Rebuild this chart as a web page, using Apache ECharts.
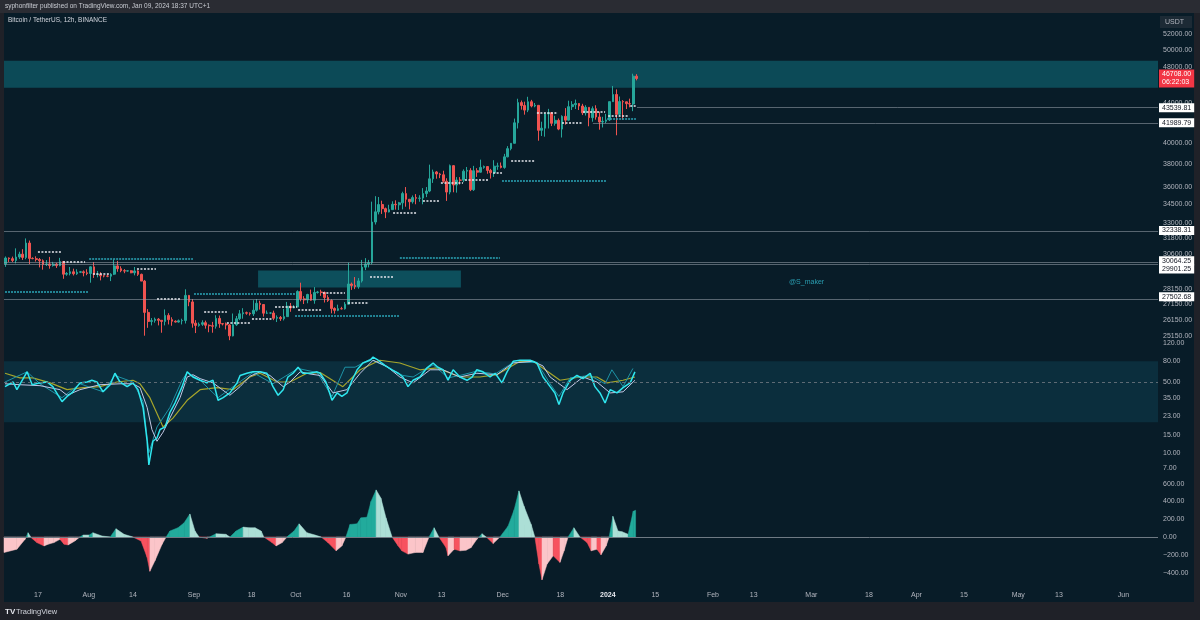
<!DOCTYPE html>
<html>
<head>
<meta charset="utf-8">
<title>Bitcoin / TetherUS, 12h, BINANCE</title>
<script src="https://cdn.jsdelivr.net/npm/echarts@6/dist/echarts.min.js"></script>
<style>
  html, body { margin: 0; padding: 0; background: #1f2128; }
  #chart { width: 1200px; height: 620px; }
</style>
</head>
<body>
<div id="chart"></div>
<script>
// daily candles from 2023-07-07 (day 0) to 2024-01-09
var opens = [
  29900, 30340, 30290, 30160, 30410, 30620, 30380, 31450, 30310, 30290, 30230, 30140, 29860, 29910, 29800, 29900, 29790, 30080, 29180, 29230, 29350, 29210, 29320, 29350, 29280,
  29230, 29700, 29170, 29180, 29070, 29050, 29040, 29180, 29770, 29570, 29430, 29400, 29420, 29280, 29410, 29170, 28700, 26620, 26050, 26100, 26190, 26120, 26050, 26430, 26160, 26060, 26010, 26090, 26110, 27730, 27300,
  25940, 25800, 25870, 25970, 25810, 25780, 25750, 26240, 25910, 25890, 25830, 25160, 25840, 26220, 26530, 26600, 26570, 26530, 26760, 27210, 27130, 26570, 26580, 26580, 26250, 26300, 26220, 26350, 27020, 26910,
  26970, 27990, 27500, 27430, 27790, 27410, 27930, 27960, 27930, 27590, 27390, 26870, 26750, 26860, 26850, 27150, 28500, 28400, 28320, 28710, 29680, 29910, 29990, 33080, 33900, 34500, 34160, 33890, 34080, 34520, 34480,
  34640, 35420, 34940, 34730, 35080, 35020, 35040, 35420, 35640, 36700, 37310, 37130, 37060, 36490, 35550, 37880, 36160, 36590, 36580, 37380, 37450, 35750, 37420, 37290, 37720, 37800, 37450, 37240, 37830, 37850,
  37720, 38690, 39460, 39970, 41990, 44080, 43770, 43290, 44170, 43720, 43790, 41240, 41450, 42890, 43020, 41940, 42240, 41360, 42650, 42260, 43650, 43860, 43990, 43720, 43010, 43580, 42510, 43440, 42580, 42070, 42140,
  42280, 44180, 44950, 42850, 44190, 44160, 43970, 43930, 46970
];
var closes = [
  30340, 30290, 30160, 30410, 30620, 30380, 31450, 30310, 30290, 30230, 30140, 29860, 29910, 29800, 29900, 29790, 30080, 29180, 29230, 29350, 29210, 29320, 29350, 29280, 29230,
  29700, 29170, 29180, 29070, 29050, 29040, 29180, 29770, 29570, 29430, 29400, 29420, 29280, 29410, 29170, 28700, 26620, 26050, 26100, 26190, 26120, 26050, 26430, 26160, 26060, 26010, 26090, 26110, 27730, 27300, 25940,
  25800, 25870, 25970, 25810, 25780, 25750, 26240, 25910, 25890, 25830, 25160, 25840, 26220, 26530, 26600, 26570, 26530, 26760, 27210, 27130, 26570, 26580, 26580, 26250, 26300, 26220, 26350, 27020, 26910, 26970,
  27990, 27500, 27430, 27790, 27410, 27930, 27960, 27930, 27590, 27390, 26870, 26750, 26860, 26850, 27150, 28500, 28400, 28320, 28710, 29680, 29910, 29990, 33080, 33900, 34500, 34160, 33890, 34080, 34520, 34480, 34640,
  35420, 34940, 34730, 35080, 35020, 35040, 35420, 35640, 36700, 37310, 37130, 37060, 36490, 35550, 37880, 36160, 36590, 36580, 37380, 37450, 35750, 37420, 37290, 37720, 37800, 37450, 37240, 37830, 37850, 37720,
  38690, 39460, 39970, 41990, 44080, 43770, 43290, 44170, 43720, 43790, 41240, 41450, 42890, 43020, 41940, 42240, 41360, 42650, 42260, 43650, 43860, 43990, 43720, 43010, 43580, 42510, 43440, 42580, 42070, 42140, 42280,
  44180, 44950, 42850, 44190, 44160, 43970, 43930, 46970, 46708
];
var lows = [
  29700, 30050, 30050, 29950, 30270, 30200, 30250, 29900, 30250, 30080, 29660, 29500, 29760, 29570, 29720, 29620, 29740, 28860, 29070, 29100, 29090, 29130, 29260, 29030, 29110,
  28590, 28920, 28960, 28750, 28960, 28970, 28700, 29120, 29350, 29320, 29250, 29360, 29250, 29100, 29060, 28700, 25170, 25650, 25800, 25970, 25800, 25350, 25800, 25860, 25780, 25980, 25970, 25860, 25920, 27020, 25660,
  25330, 25720, 25770, 25600, 25380, 25350, 25600, 25650, 25800, 25550, 24900, 25130, 25770, 26130, 26220, 26470, 26420, 26390, 26670, 26800, 26350, 26520, 26510, 26130, 26010, 26080, 26110, 26340, 26660, 26880,
  26960, 27340, 27160, 27210, 27370, 27180, 27850, 27700, 27260, 27300, 26560, 26540, 26700, 26810, 26800, 27120, 28100, 28150, 28180, 28600, 29470, 29660, 29880, 32880, 33690, 33730, 33390, 33850, 34060, 34080, 34050,
  34100, 34320, 34100, 34580, 34520, 34730, 34520, 35120, 35540, 36340, 36710, 36760, 36340, 34800, 35360, 35530, 35500, 36200, 36400, 36700, 35630, 35650, 36870, 37250, 37600, 37150, 36720, 36870, 37500, 37630,
  37600, 38650, 39300, 39970, 41420, 43340, 42820, 43080, 43580, 43590, 40220, 40680, 40610, 41420, 41660, 41700, 41250, 40530, 41800, 42190, 43300, 43400, 43300, 42780, 42730, 41640, 42100, 42310, 41300, 41520, 41950,
  42180, 44150, 40750, 42620, 42290, 43400, 43580, 43180, 46500
];
var highs = [
  30450, 30380, 30440, 31050, 30800, 30990, 31800, 31640, 30390, 30460, 30340, 30240, 30190, 30420, 30060, 29990, 30350, 30100, 29330, 29690, 29570, 29530, 29410, 29450, 29530,
  29740, 30050, 29410, 29320, 29110, 29170, 29250, 30240, 30130, 29740, 29540, 29470, 29460, 29690, 29460, 29220, 28780, 26830, 26260, 26290, 26260, 26130, 26810, 26570, 26310, 26120, 26170, 26220, 28140, 27760, 27490,
  26130, 25980, 26120, 26100, 25860, 26020, 26440, 26420, 25940, 25980, 25880, 26550, 26390, 26770, 26890, 26670, 26620, 27410, 27490, 27380, 27150, 26740, 26640, 26730, 26430, 26390, 26840, 27300, 27230, 27090,
  28070, 28590, 27680, 27840, 28120, 28290, 28030, 28110, 27990, 27740, 27480, 26950, 27120, 26980, 27290, 30000, 28600, 28980, 28910, 30200, 30330, 30200, 34740, 35200, 35130, 34820, 34250, 34480, 34770, 34850, 34720,
  35580, 35980, 34950, 35260, 35380, 35280, 35890, 35980, 37970, 37520, 37400, 37230, 37420, 36750, 37980, 37930, 36850, 36850, 37540, 37760, 37650, 37860, 37650, 38430, 37890, 37830, 37590, 38380, 38150, 38170,
  38970, 39700, 40000, 42420, 44490, 44300, 44180, 44700, 44370, 44040, 43800, 42100, 43000, 43420, 43090, 42700, 42430, 42750, 43500, 44280, 44230, 44400, 44020, 43950, 43800, 43600, 43680, 43800, 43130, 42600, 42900,
  44190, 45880, 45500, 44730, 44340, 44190, 44500, 47250, 47200
];

// oscillator pane, [day, value]
var rsiFast = [[0.3,45],[2.7,50],[3.8,42],[6.8,63],[8.3,47],[10.6,49],[12.7,50],[14.4,45],[17.1,32],[18.6,36],[20.0,39],[22.4,49],[24.5,50],[25.9,52],[27.4,50],[29.2,40],[31.3,47],[32.7,61],[34.2,50],[36.3,45],[38.0,49],[39.5,42],[41.0,28],[42.2,13],[42.7,7.6],[43.9,13],[45.1,14],[46.0,17],[47.5,18],[48.9,25],[50.4,31],[52.5,45],[54.0,63],[55.7,56],[57.8,52],[59.8,49],[61.6,52],[63.1,33],[64.6,35],[66.6,39],[68.7,49],[69.6,58],[71.6,61],[73.4,63],[75.5,63],[77.5,61],[79.3,45],[80.8,37],[82.3,42],[83.7,56],[85.2,61],[86.7,70],[88.1,61],[90.2,61],[92.3,63],[93.2,61],[94.9,50],[96.7,33],[98.2,39],[99.6,36],[101.1,39],[102.6,52],[104.1,66],[105.8,77],[107.9,82],[108.8,88],[110.3,82],[112.3,73],[114.4,66],[116.2,61],[117.6,56],[119.1,45],[120.6,52],[122.6,56],[124.7,69],[126.5,77],[127.9,70],[129.4,66],[130.9,52],[132.4,66],[134.4,56],[136.5,52],[138.0,56],[139.4,66],[141.2,63],[143.3,56],[144.8,61],[146.8,49],[148.3,63],[150.1,80],[152.1,82],[155.1,82],[157.1,77],[158.9,56],[161.0,45],[162.4,39],[163.6,30],[164.8,39],[166.9,52],[168.9,58],[170.7,54],[172.8,61],[174.2,45],[175.7,39],[177.2,31],[178.7,42],[180.7,39],[182.5,44],[184.6,49],[186.0,63]];
var rsiSlow = [[0.3,48],[4.7,47],[10.6,46],[16.5,42],[18.6,37],[22.4,42],[28.3,47],[34.2,48],[38.0,48],[40.1,44],[42.2,28],[43.6,17],[45.1,13],[46.9,16],[48.9,22],[51.9,35],[54.0,56],[55.7,59],[57.8,54],[61.6,49],[65.2,40],[66.6,37],[69.6,45],[72.5,57],[75.5,63],[78.4,58],[82.3,45],[84.3,50],[87.3,63],[90.2,60],[93.2,58],[97.0,39],[101.1,42],[105.0,61],[108.8,82],[112.9,71],[116.7,56],[120.6,49],[125.6,66],[129.4,66],[134.4,56],[139.4,61],[145.3,59],[150.1,77],[156.0,80],[158.9,72],[161.0,56],[166.0,42],[170.7,56],[174.8,50],[178.7,39],[182.5,40],[186.0,52]];
var rsiMa = [[0.3,61],[4.7,55],[8.5,55],[13.6,49],[18.6,42],[23.3,44],[28.3,45],[33.3,50],[38.0,52],[40.1,48],[43.0,35],[46.9,18],[49.8,22],[54.0,33],[57.8,42],[62.8,44],[67.5,42],[72.5,56],[75.5,61],[80.5,50],[84.3,50],[89.3,61],[93.2,62],[99.9,45],[105.0,66],[110.8,82],[116.7,77],[122.6,66],[127.7,69],[134.4,56],[140.3,56],[145.3,59],[152.1,80],[156.0,80],[163.9,52],[169.8,56],[174.8,56],[177.8,49],[182.5,52],[186.0,56]];
var rsiHtf = [[0.3,50],[6.8,63],[10.6,48],[17.1,35],[22.4,48],[29.2,40],[32.7,58],[38.0,50],[41.0,32],[42.7,10],[45.1,18],[48.9,28],[52.5,52],[54.0,62],[57.8,52],[63.1,35],[68.7,48],[73.4,62],[79.3,48],[86.7,68],[92.3,62],[96.7,36],[100.5,70],[103.5,70],[107.9,84],[112.3,72],[117.6,58],[120.6,56],[126.5,74],[130.9,55],[134.4,58],[139.4,64],[144.8,60],[150.1,78],[157.1,78],[161.0,48],[163.6,36],[166.9,55],[172.8,58],[177.2,48],[179.2,66],[182.5,45],[185.4,68]];

// histogram pane, [day, value]
var histPts = [[0,-174],[3.8,-137],[6.2,-26],[7.1,48],[8.0,-7],[9.7,-63],[11.8,-100],[13.0,-81],[14.7,-63],[16.5,-26],[17.7,-81],[18.9,-89],[20.9,-44],[22.1,-7],[23.3,22],[25.1,22],[26.2,48],[28.9,11],[31.3,0],[33.0,93],[35.4,30],[38.0,0],[40.4,-44],[42.2,-229],[43.0,-385],[44.5,-266],[46.6,-81],[47.8,0],[48.9,67],[51.3,104],[53.1,159],[54.8,259],[56.3,67],[57.5,0],[59.8,-15],[62.5,37],[65.4,30],[66.6,0],[68.4,67],[70.5,111],[72.2,104],[74.0,104],[75.8,67],[76.6,0],[79.0,-63],[80.2,-100],[82.0,-63],[83.7,11],[85.5,67],[87.0,148],[89.3,48],[91.7,22],[93.5,0],[95.5,-63],[97.9,-155],[99.6,-100],[100.8,0],[102.0,141],[104.1,148],[105.2,215],[107.0,222],[108.2,400],[109.7,529],[111.1,437],[112.6,215],[114.4,0],[116.2,-100],[117.3,-155],[119.1,-192],[121.2,-174],[123.5,-174],[125.3,0],[126.8,104],[128.2,0],[130.3,-118],[130.9,-211],[132.7,-137],[134.4,-155],[136.2,-148],[137.7,-118],[139.4,-26],[140.9,37],[142.4,-7],[144.2,-74],[146.2,0],[148.6,122],[150.4,307],[151.8,518],[153.3,344],[155.4,141],[156.5,0],[157.7,-303],[158.6,-481],[160.1,-303],[161.9,-211],[163.9,-285],[165.1,-155],[166.3,0],[168.0,104],[169.8,0],[171.9,-63],[173.1,-155],[174.8,-137],[176.0,-200],[177.5,-100],[178.4,0],[179.5,233],[181.0,67],[182.2,59],[184.0,30],[185.5,289],[186.2,300]];

// horizontal levels
var levelPrices = [43539.81, 41989.79, 32338.31, 30064.25, 29901.25, 27502.68];
var levelStartDays = [186.6, 173.6, 0, 0, 0, 0];
var lastPrice = 46708.00;
var lastCountdown = '06:22:03';
// [startDay, endDay, price]
var whiteLevels = [[10.0,17.1,30780],[17.4,23.9,30050],[26.2,31.3,29240],[39.2,44.8,29550],[45.1,51.9,27490],[59.0,65.7,26640],[65.7,72.5,25950],[73.1,79.3,26200],[79.9,86.4,26970],[86.7,93.8,26780],[94.0,100.5,27890],[101.4,107.6,27230],[107.9,114.7,28980],[114.7,121.5,33800],[123.5,128.5,34800],[128.8,135.3,36330],[135.9,142.7,36600],[144.2,146.8,37220],[149.5,156.5,38310],[157.1,163.3,42990],[164.5,170.4,41970],[170.7,177.2,43100],[178.1,184.3,42680],[184.6,186.6,43720]];
var cyanLevels = [[0.3,24.8,27990],[25.1,55.7,30310],[56.0,85.8,27860],[85.8,116.7,26420],[116.7,146.2,30360],[146.8,177.5,36510],[177.8,186.3,42370]];
// [startDay, endDay, lowPrice, highPrice]
var zones = [[0, 340.2, 45670, 48740], [74.9, 134.7, 28260, 29440]];
var rsiBand = [20, 80];

var priceTicks = [52000, 50000, 48000, 46000, 44000, 40000, 38000, 36000, 34500, 33000, 31800, 30600, 28150, 27150, 26150, 25150];
var rsiTicks = [120, 80, 50, 35, 23, 15, 10, 7];
var histTicks = [600, 400, 200, 0, -200, -400];
var dateTicks = ['2023-07-17','2023-08-01','2023-08-14','2023-09-01','2023-09-18','2023-10-01','2023-10-16','2023-11-01','2023-11-13','2023-12-01','2023-12-18','2024-01-01','2024-01-15','2024-02-01','2024-02-13','2024-03-01','2024-03-18','2024-04-01','2024-04-15','2024-05-01','2024-05-13','2024-06-01'];
var dateLabels = ['17','Aug','14','Sep','18','Oct','16','Nov','13','Dec','18','2024','15','Feb','13','Mar','18','Apr','15','May','13','Jun'];

var LN = Math.log;
var XMAX = 340.2;
var dayOf = function (s) { return (Date.parse(s) - Date.parse('2023-07-07')) / 864e5; };
var dateDays = dateTicks.map(dayOf);
var labelShift = [0, 0, -1, -1, 5, -2];
var txt = '#b2b5be';
var font = 'Liberation Sans';

var candleData = opens.map(function (o, i) {
  return [i + 0.5, LN(o), LN(closes[i]), LN(lows[i]), LN(highs[i])];
});
var toLn = function (arr) { return arr.map(function (p) { return [p[0], LN(p[1])]; }); };

var segs = [];
for (var i = 0; i < histPts.length - 1; i++) {
  segs.push([histPts[i][0], histPts[i][1], histPts[i + 1][0], histPts[i + 1][1]]);
}

// marks on the price pane
var lines = [];
levelPrices.forEach(function (p, i) {
  lines.push([{
    coord: [levelStartDays[i], LN(p)],
    lineStyle: { color: 'rgba(150,160,170,0.7)', width: 0.8, type: 'solid' },
    label: {
      show: true, position: 'end', distance: 1, formatter: p.toFixed(2),
      backgroundColor: '#ffffff', color: '#131722', fontSize: 7, fontFamily: font,
      padding: [1, 3, 1, 3], offset: [0, labelShift[i]]
    }
  }, { coord: [XMAX, LN(p)] }]);
});
whiteLevels.forEach(function (l) {
  lines.push([{ coord: [l[0], LN(l[2])], lineStyle: { color: '#e6e8ee', width: 1.6, type: [2, 1.5] }, label: { show: false } },
              { coord: [l[1], LN(l[2])] }]);
});
cyanLevels.forEach(function (l) {
  lines.push([{ coord: [l[0], LN(l[2])], lineStyle: { color: '#2ba6b8', width: 1.6, type: [2, 1] }, label: { show: false } },
              { coord: [l[1], LN(l[2])] }]);
});
lines.push([{
  coord: [0, LN(lastPrice)],
  lineStyle: { color: 'rgba(0,0,0,0)', width: 0 },
  label: {
    show: true, position: 'end', distance: 1,
    formatter: lastPrice.toFixed(2) + '\n' + lastCountdown,
    backgroundColor: '#f23645', color: '#ffffff', fontSize: 7, fontFamily: font,
    lineHeight: 8, padding: [1, 3, 1, 3]
  }
}, { coord: [XMAX, LN(lastPrice)] }]);

var areas = zones.map(function (z, i) {
  return [{ coord: [z[0], LN(z[3])], itemStyle: { color: i === 0 ? 'rgba(22,150,165,0.38)' : 'rgba(22,150,165,0.42)' } },
          { coord: [z[1], LN(z[2])] }];
});

function histItem(params, api) {
  var t0 = api.value(0), v0 = api.value(1), t1 = api.value(2), v1 = api.value(3);
  function poly(ta, va, tb, vb) {
    var grow = Math.abs(vb) > Math.abs(va);
    var up = (va + vb) / 2 >= 0;
    var c = up ? (grow ? '#22ab9c' : '#acdfd6') : (grow ? '#f7525f' : '#fbc5c9');
    return {
      type: 'polygon',
      shape: { points: [api.coord([ta, 0]), api.coord([ta, va]), api.coord([tb, vb]), api.coord([tb, 0])] },
      style: { fill: c, stroke: c, lineWidth: 0.5 }
    };
  }
  var kids = [];
  if (v0 * v1 < 0) {
    var tz = t0 + (t1 - t0) * (v0 / (v0 - v1));
    kids.push(poly(t0, v0, tz, 0));
    kids.push(poly(tz, 0, t1, v1));
  } else {
    kids.push(poly(t0, v0, t1, v1));
  }
  return { type: 'group', children: kids };
}

var chart = echarts.init(document.getElementById('chart'));
var xBase = { type: 'value', min: 0, max: XMAX, show: false };
var yBase = {
  type: 'value', position: 'right', scale: true,
  axisLine: { show: false }, axisTick: { show: false }, splitLine: { show: false }
};

var option = {
  animation: false,
  backgroundColor: '#1f2128',
  grid: [
    { left: 4, top: 14, width: 1154, height: 326 },
    { left: 4, top: 342, width: 1154, height: 134 },
    { left: 4, top: 476, width: 1154, height: 114 }
  ],
  xAxis: [
    Object.assign({}, xBase, { gridIndex: 0 }),
    Object.assign({}, xBase, { gridIndex: 1 }),
    {
      type: 'value', gridIndex: 2, min: 0, max: XMAX,
      axisLine: { show: false }, axisTick: { show: false }, splitLine: { show: false },
      axisLabel: {
        customValues: dateDays, margin: 2, color: txt, fontSize: 7, fontFamily: font,
        formatter: function (v) {
          var k = 0;
          for (var j = 1; j < dateDays.length; j++) if (Math.abs(dateDays[j] - v) < Math.abs(dateDays[k] - v)) k = j;
          return dateLabels[k] === '2024' ? '{b|2024}' : dateLabels[k];
        },
        rich: { b: { fontWeight: 'bold', color: '#e6e8ee', fontSize: 7, fontFamily: font } }
      }
    }
  ],
  yAxis: [
    Object.assign({}, yBase, {
      gridIndex: 0, min: 10.12307, max: 10.90673,
      axisLabel: { customValues: priceTicks.map(LN), margin: 5, color: txt, fontSize: 7, fontFamily: font,
        formatter: function (v) { return Math.exp(v).toFixed(2); } }
    }),
    Object.assign({}, yBase, {
      gridIndex: 1, min: 1.77566, max: 4.82111,
      axisLabel: { customValues: rsiTicks.map(LN), margin: 5, color: txt, fontSize: 7, fontFamily: font,
        formatter: function (v) { return Math.exp(v).toFixed(2); } }
    }),
    Object.assign({}, yBase, {
      gridIndex: 2, min: -595, max: 685,
      axisLabel: { customValues: histTicks, margin: 5, color: txt, fontSize: 7, fontFamily: font,
        formatter: function (v) { return v < 0 ? '\u2212' + Math.abs(v).toFixed(2) : v.toFixed(2); } }
    })
  ],
  graphic: [
    { type: 'rect', z: -10, shape: { x: 0, y: 0, width: 1200, height: 13 }, style: { fill: '#2a2c33' } },
    { type: 'rect', z: -10, shape: { x: 4, y: 13, width: 1190, height: 589 }, style: { fill: '#081c28' } },
    { type: 'text', x: 5, y: 3, style: { text: 'syphonfilter published on TradingView.com, Jan 09, 2024 18:37 UTC+1', fill: '#c9ccd3', fontSize: 6.5, fontFamily: font } },
    { type: 'text', x: 8, y: 17, style: { text: 'Bitcoin / TetherUS, 12h, BINANCE', fill: '#d1d4dc', fontSize: 6.5, fontFamily: font } },
    { type: 'rect', shape: { x: 1160, y: 16, width: 32, height: 12 }, style: { fill: '#1c2a35' } },
    { type: 'text', x: 1165, y: 19, style: { text: 'USDT', fill: txt, fontSize: 7, fontFamily: font } },
    { type: 'text', x: 789, y: 279, style: { text: '@S_maker', fill: '#2a9db0', fontSize: 7, fontFamily: font } },
    { type: 'text', x: 5, y: 608, style: { text: 'TV', fill: '#e6e8ee', fontSize: 8, fontWeight: 'bold', fontFamily: font } },
    { type: 'text', x: 16, y: 608, style: { text: 'TradingView', fill: '#d1d4dc', fontSize: 7.5, fontFamily: font } }
  ],
  series: [
    {
      type: 'candlestick', xAxisIndex: 0, yAxisIndex: 0,
      data: candleData, encode: { x: 0, y: [1, 2, 3, 4] },
      barWidth: 2.2,
      itemStyle: { color: '#26a69a', color0: '#ef5350', borderColor: '#26a69a', borderColor0: '#ef5350', borderWidth: 1 },
      markArea: { silent: true, data: areas },
      markLine: { silent: true, symbol: ['none', 'none'], data: lines }
    },
    {
      type: 'line', xAxisIndex: 1, yAxisIndex: 1, data: toLn(rsiMa), showSymbol: false,
      lineStyle: { color: '#a6a52b', width: 1.2 },
      markArea: { silent: true, itemStyle: { color: 'rgba(25,115,135,0.22)' },
        data: [[{ yAxis: LN(rsiBand[1]) }, { yAxis: LN(rsiBand[0]) }]] },
      markLine: { silent: true, symbol: ['none', 'none'], label: { show: false },
        lineStyle: { color: '#5e6b75', type: [3, 3], width: 1 }, data: [{ yAxis: LN(50) }] }
    },
    {
      type: 'line', xAxisIndex: 1, yAxisIndex: 1, data: toLn(rsiHtf), showSymbol: false,
      lineStyle: { color: '#1d93a6', width: 1 }
    },
    {
      type: 'line', xAxisIndex: 1, yAxisIndex: 1, data: toLn(rsiSlow), showSymbol: false,
      lineStyle: { color: '#c3c8e6', width: 1 }
    },
    {
      type: 'line', xAxisIndex: 1, yAxisIndex: 1, data: toLn(rsiFast), showSymbol: false,
      lineStyle: { color: '#2fe6ee', width: 1.5 }
    },
    {
      type: 'custom', xAxisIndex: 2, yAxisIndex: 2, data: segs,
      encode: { x: [0, 2], y: [1, 3] }, renderItem: histItem,
      markLine: { silent: true, symbol: ['none', 'none'], label: { show: false },
        lineStyle: { color: '#6f7a84', type: 'solid', width: 1 }, data: [{ yAxis: 0 }] }
    }
  ]
};
chart.setOption(option);
</script>
</body>
</html>
